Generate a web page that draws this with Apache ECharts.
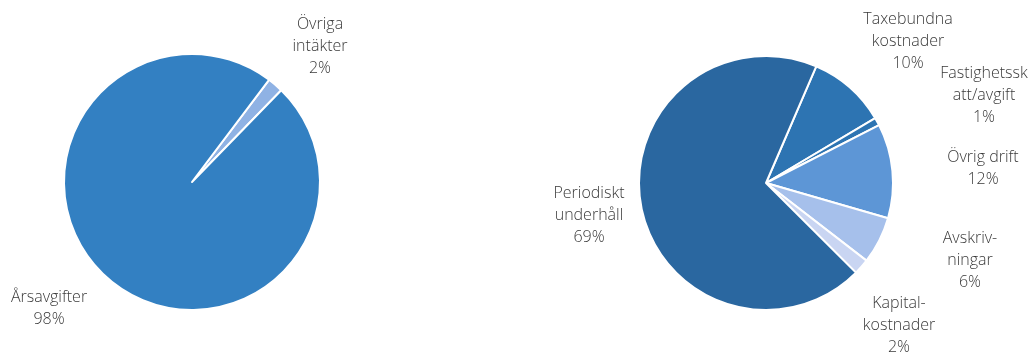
<!DOCTYPE html>
<html>
<head>
<meta charset="utf-8">
<script src="https://cdn.jsdelivr.net/npm/echarts@6/dist/echarts.min.js"></script>
<style>
html,body{margin:0;padding:0;background:#fff;}
#chart{width:1030px;height:354px;}
</style>
</head>
<body>
<div id="chart"></div>
<script>
// Left pie: income
const incomeNames = ['Övriga\nintäkter', 'Årsavgifter'];
const incomeValues = [2, 98];
const incomeColors = ['#8fb2e4', '#3380c2'];

// Right pie: costs
const costNames = ['Taxebundna\nkostnader', 'Fastighetssk\natt/avgift', 'Övrig drift', 'Avskriv-\nningar', 'Kapital-\nkostnader', 'Periodiskt\nunderhåll'];
const costValues = [10, 1, 12, 6, 2, 69];
const costColors = ['#2d74b2', '#2d74b2', '#5d96d6', '#a6c0eb', '#c9d5f2', '#2a67a0'];

// label anchor points (layout only)
const incomeLabelPos = [[320, 46], [49, 308]];
const costLabelPos = [[908, 41], [984, 95], [983, 168], [970, 260], [899, 325], [589, 215]];

const chart = echarts.init(document.getElementById('chart'));

function makeData(names, values, colors) {
  return names.map((n, i) => ({ name: n, value: values[i], itemStyle: { color: colors[i] } }));
}

const labelStyle = {
  show: true,
  position: 'outside',
  alignTo: 'none',
  overflow: 'none',
  formatter: '{b}\n{c}%',
  fontFamily: 'Open Sans',
  fontWeight: 300,
  fontSize: 16,
  lineHeight: 22,
  color: '#3a3a3a',
  align: 'center'
};

chart.setOption({
  animation: false,
  series: [
    {
      type: 'pie',
      center: [192, 182],
      radius: [0, 128],
      startAngle: 53,
      clockwise: true,
      data: makeData(incomeNames, incomeValues, incomeColors),
      itemStyle: { borderColor: '#ffffff', borderWidth: 2 },
      label: labelStyle,
      labelLine: { show: false },
      labelLayout: function (p) {
        const pos = incomeLabelPos[p.dataIndex];
        return { x: pos[0], y: pos[1], align: 'center', verticalAlign: 'middle' };
      },
      emphasis: { disabled: true }
    },
    {
      type: 'pie',
      center: [766, 183],
      radius: [0, 127],
      startAngle: 66.7,
      clockwise: true,
      data: makeData(costNames, costValues, costColors),
      itemStyle: { borderColor: '#ffffff', borderWidth: 2 },
      label: labelStyle,
      labelLine: { show: false },
      labelLayout: function (p) {
        const pos = costLabelPos[p.dataIndex];
        return { x: pos[0], y: pos[1], align: 'center', verticalAlign: 'middle' };
      },
      emphasis: { disabled: true }
    }
  ]
});
</script>
</body>
</html>
